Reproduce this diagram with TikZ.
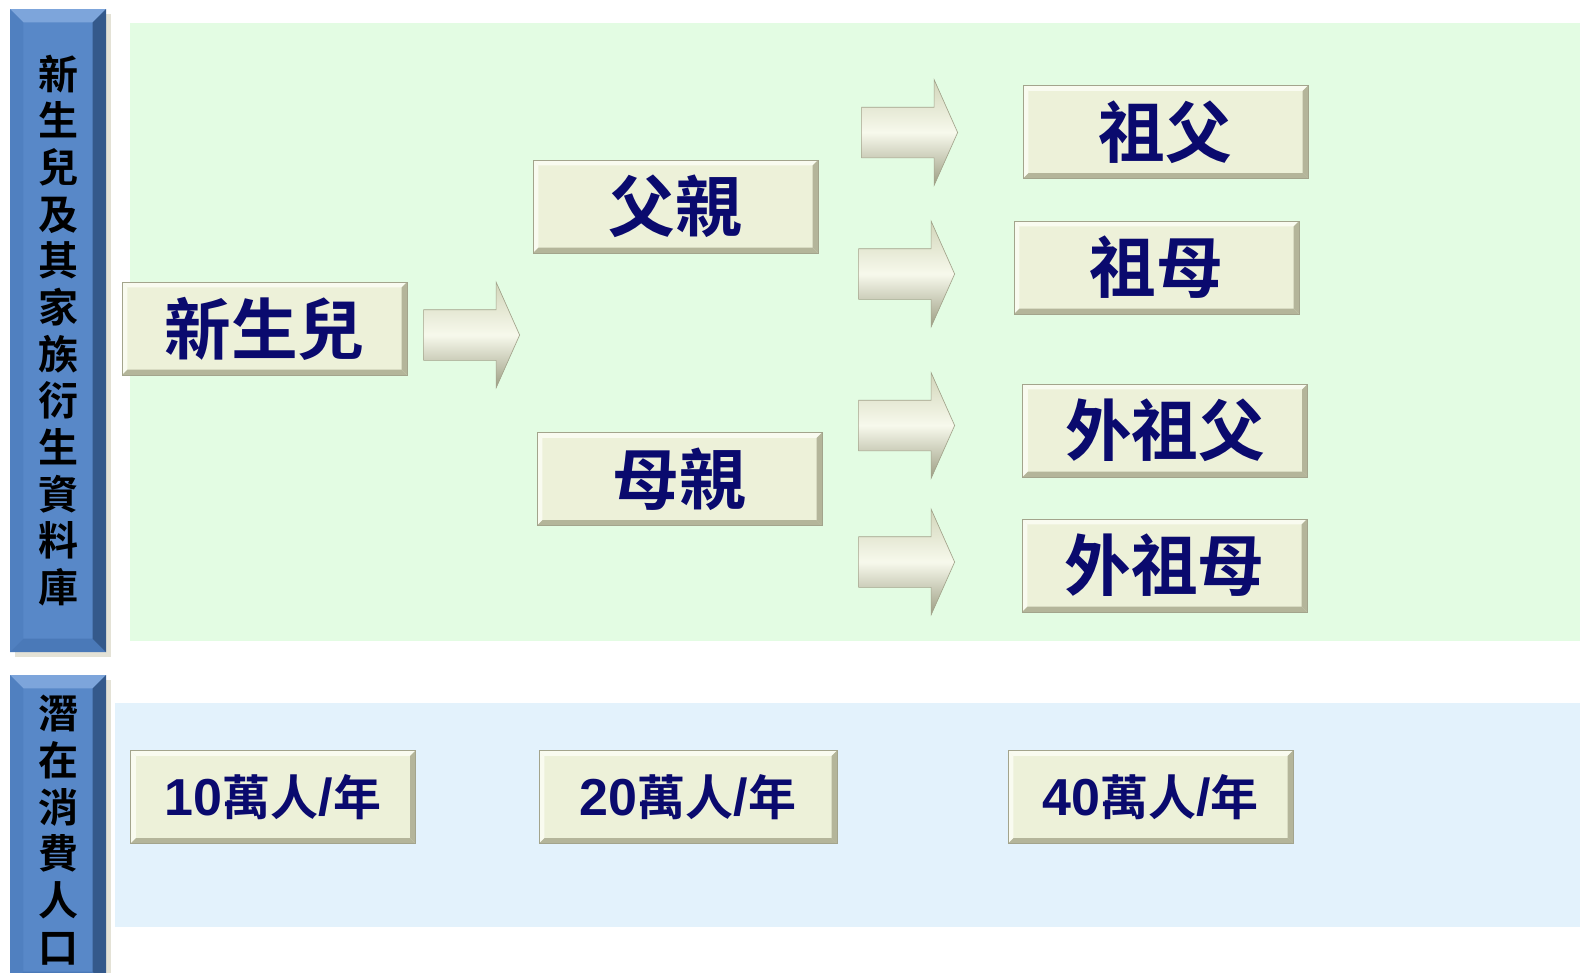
\documentclass[tikz,border=0pt]{standalone}
\usepackage{fontspec}
\newfontfamily\kaiface{Noto Sans CJK TC Bold}
\newfontfamily\numface{Liberation Sans}
\usetikzlibrary{shapes.arrows,shadows}

\definecolor{kingreen}{HTML}{E3FCE3}
\definecolor{popblue}{HTML}{E3F2FC}
\definecolor{boxfill}{HTML}{EDF1D9}
\definecolor{boxlite}{HTML}{F9FBF0}
\definecolor{boxdark}{HTML}{B4B59A}
\definecolor{boxedge}{HTML}{A3A48C}
\definecolor{navytext}{HTML}{0A0A6E}
\definecolor{barblue}{HTML}{5888C8}
\definecolor{barlite}{HTML}{7DA5DB}
\definecolor{barside}{HTML}{5080C0}
\definecolor{barlow}{HTML}{4A79B8}
\definecolor{bardark}{HTML}{34598B}
\definecolor{barshadow}{HTML}{E4E2D6}
\definecolor{arrowtop}{HTML}{D2D6BA}
\definecolor{arrowmid}{HTML}{F7F9EC}
\definecolor{arrowbot}{HTML}{9C9D82}

\newcommand\cntnum[1]{{\numface\bfseries\fontsize{39pt}{42pt}\selectfont #1}}

\tikzset{
  bevelled/.style n args={5}{path picture={
    \coordinate (bvsw) at (path picture bounding box.south west);
    \coordinate (bvne) at (path picture bounding box.north east);
    \coordinate (bvnw) at (path picture bounding box.north west);
    \coordinate (bvse) at (path picture bounding box.south east);
    \fill[#1] (bvnw) -- (bvne) -- ([xshift=-#5,yshift=-#5]bvne) -- ([xshift=#5,yshift=-#5]bvnw) -- cycle;
    \fill[#2] (bvnw) -- (bvsw) -- ([xshift=#5,yshift=#5]bvsw) -- ([xshift=#5,yshift=-#5]bvnw) -- cycle;
    \fill[#3] (bvsw) -- (bvse) -- ([xshift=-#5,yshift=#5]bvse) -- ([xshift=#5,yshift=#5]bvsw) -- cycle;
    \fill[#4] (bvse) -- (bvne) -- ([xshift=-#5,yshift=-#5]bvne) -- ([xshift=-#5,yshift=#5]bvse) -- cycle;
  }},
  kinbox/.style={rectangle, draw=boxedge, line width=0.6pt, fill=boxfill,
    bevelled={boxlite}{boxlite}{boxdark}{boxdark}{4pt},
    minimum width=213.75pt, minimum height=69.75pt, inner sep=0pt, text=navytext,
    font=\kaiface\fontsize{50pt}{54pt}\selectfont},
  countbox/.style={kinbox, font=\kaiface\fontsize{36pt}{40pt}\selectfont},
  titlebar/.style={rectangle, fill=barblue, bevelled={barlite}{barside}{barlow}{bardark}{10pt},
    drop shadow={shadow xshift=4pt, shadow yshift=-4pt, fill=barshadow, opacity=1},
    minimum width=72pt, inner sep=0pt, align=center, text=black,
    font=\kaiface\fontsize{30pt}{35pt}\selectfont},
  blockarrow/.style={single arrow, draw=boxedge, line width=0.5pt, minimum height=72pt, minimum width=78.75pt,
    single arrow head extend=20.6pt, single arrow tip angle=132, inner xsep=0pt, inner ysep=18.75pt,
    top color=arrowtop, bottom color=arrowbot, middle color=arrowmid}
}

\begin{document}
\begin{tikzpicture}[x=0.75pt,y=-0.75pt]
\path[use as bounding box, clip] (0,0) rectangle (1580,972);

% backgrounds
\fill[kingreen] (130,23) rectangle (1580,641);
\fill[popblue] (115,703) rectangle (1580,927);

% side titles
\node[titlebar, minimum height=482.25pt] (dbbar) at (58,330.5) {新\\生\\兒\\及\\其\\家\\族\\衍\\生\\資\\料\\庫};
\node[titlebar, minimum height=232.5pt] (popbar) at (58,830) {潛\\在\\消\\費\\人\\口};

% family tree
\node[kinbox] (baby) at (264.5,328.5) {新生兒};
\node[kinbox] (father) at (675.5,206.5) {父親};
\node[kinbox] (mother) at (679.5,479) {母親};
\node[kinbox] (gfpat) at (1165.5,132) {祖父};
\node[kinbox] (gmpat) at (1156.5,267.5) {祖母};
\node[kinbox] (gfmat) at (1165,430.5) {外祖父};
\node[kinbox] (gmmat) at (1164.5,565.5) {外祖母};

% arrows
\node[blockarrow] (arbaby) at (466,335) {};
\node[blockarrow] (argfpat) at (904,132.5) {};
\node[blockarrow] (argmpat) at (901,274) {};
\node[blockarrow] (argfmat) at (901,425.5) {};
\node[blockarrow] (argmmat) at (901,562) {};

% consumers per year
\node[countbox] (cnt1) at (273,797) {\cntnum{10}萬人\cntnum{/}年};
\node[countbox, minimum width=223.5pt] (cnt2) at (688,797) {\cntnum{20}萬人\cntnum{/}年};
\node[countbox] (cnt4) at (1150.5,797) {\cntnum{40}萬人\cntnum{/}年};

\end{tikzpicture}
\end{document}
